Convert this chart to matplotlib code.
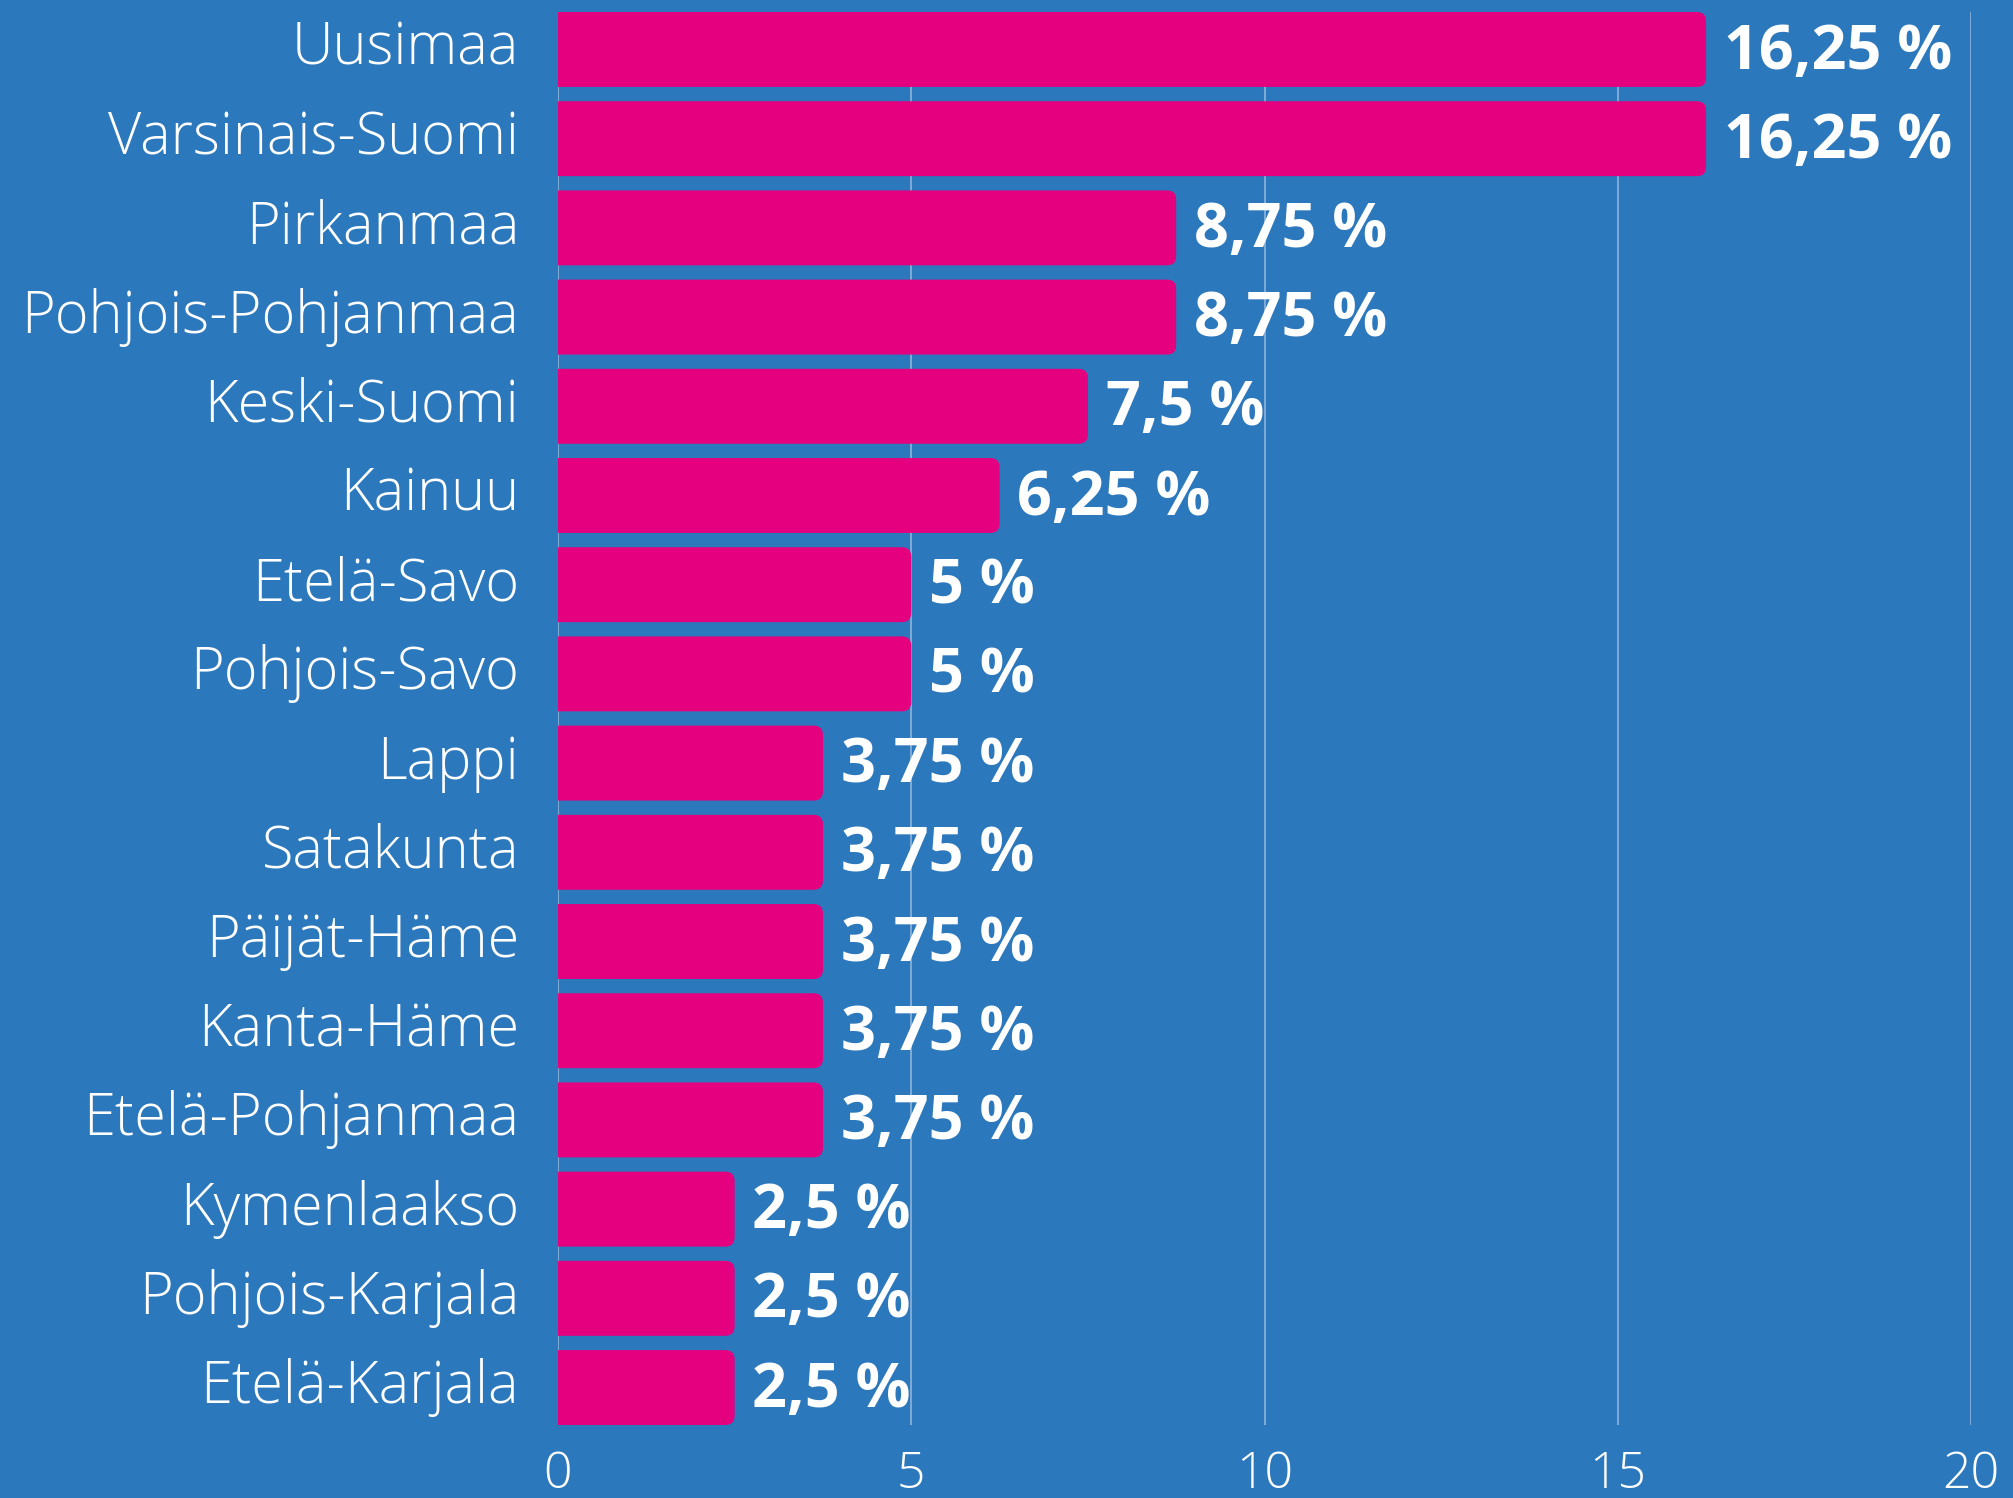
import numpy as np
import matplotlib
matplotlib.use("Agg")
import matplotlib.pyplot as plt
from matplotlib.patches import FancyBboxPatch

# Data
regions = [
    "Uusimaa", "Varsinais-Suomi", "Pirkanmaa", "Pohjois-Pohjanmaa",
    "Keski-Suomi", "Kainuu", "Etelä-Savo", "Pohjois-Savo", "Lappi",
    "Satakunta", "Päijät-Häme", "Kanta-Häme", "Etelä-Pohjanmaa",
    "Kymenlaakso", "Pohjois-Karjala", "Etelä-Karjala",
]
shares = [16.25, 16.25, 8.75, 8.75, 7.5, 6.25, 5, 5, 3.75, 3.75, 3.75,
          3.75, 3.75, 2.5, 2.5, 2.5]
xticks = [0, 5, 10, 15, 20]

bg = "#2C78BC"
pink = "#E4007E"

fig = plt.figure(figsize=(20.13, 14.98), dpi=100, facecolor=bg)
ax = fig.add_axes([558 / 2013, 1 - 1425 / 1498, (1971 - 558) / 2013, (1425 - 12) / 1498])
ax.set_facecolor(bg)

y = np.arange(len(regions))
h = 0.84

# Rounded bars (right side only, left part clipped by the axes)
for yi, v in zip(y, shares):
    p = FancyBboxPatch((-0.5, yi - h / 2), v + 0.5, h,
                       boxstyle="round,pad=0,rounding_size=0.13",
                       mutation_aspect=0.79, fc=pink, ec="none", zorder=3)
    ax.add_patch(p)

ax.set_xlim(0, 20)
ax.set_ylim(len(regions) - 1 + h / 2, -h / 2)

ax.set_xticks(xticks)
ax.set_xticklabels([str(t) for t in xticks], fontsize=36, color="white",
                   family="Open Sans", fontweight="light")
ax.set_yticks(y)
ax.set_yticklabels(regions, fontsize=41.5, color="white", family="Open Sans",
                   fontweight="light", va="center")
ax.tick_params(axis="both", length=0)
ax.tick_params(axis="y", pad=28)
ax.tick_params(axis="x", pad=18)

ax.grid(axis="x", color="#8DB3DB", linewidth=1.2, zorder=1)
ax.grid(axis="y", visible=False)
for s in ax.spines.values():
    s.set_visible(False)

for yi, v in zip(y, shares):
    txt = f"{v:g}".replace(".", ",") + " %"
    ax.text(v + 0.25, yi + 0.04, txt, va="center", ha="left", fontsize=44,
            color="white", family="Open Sans", fontweight="bold", zorder=4)

fig.savefig("out.png", dpi=100, facecolor=bg)
